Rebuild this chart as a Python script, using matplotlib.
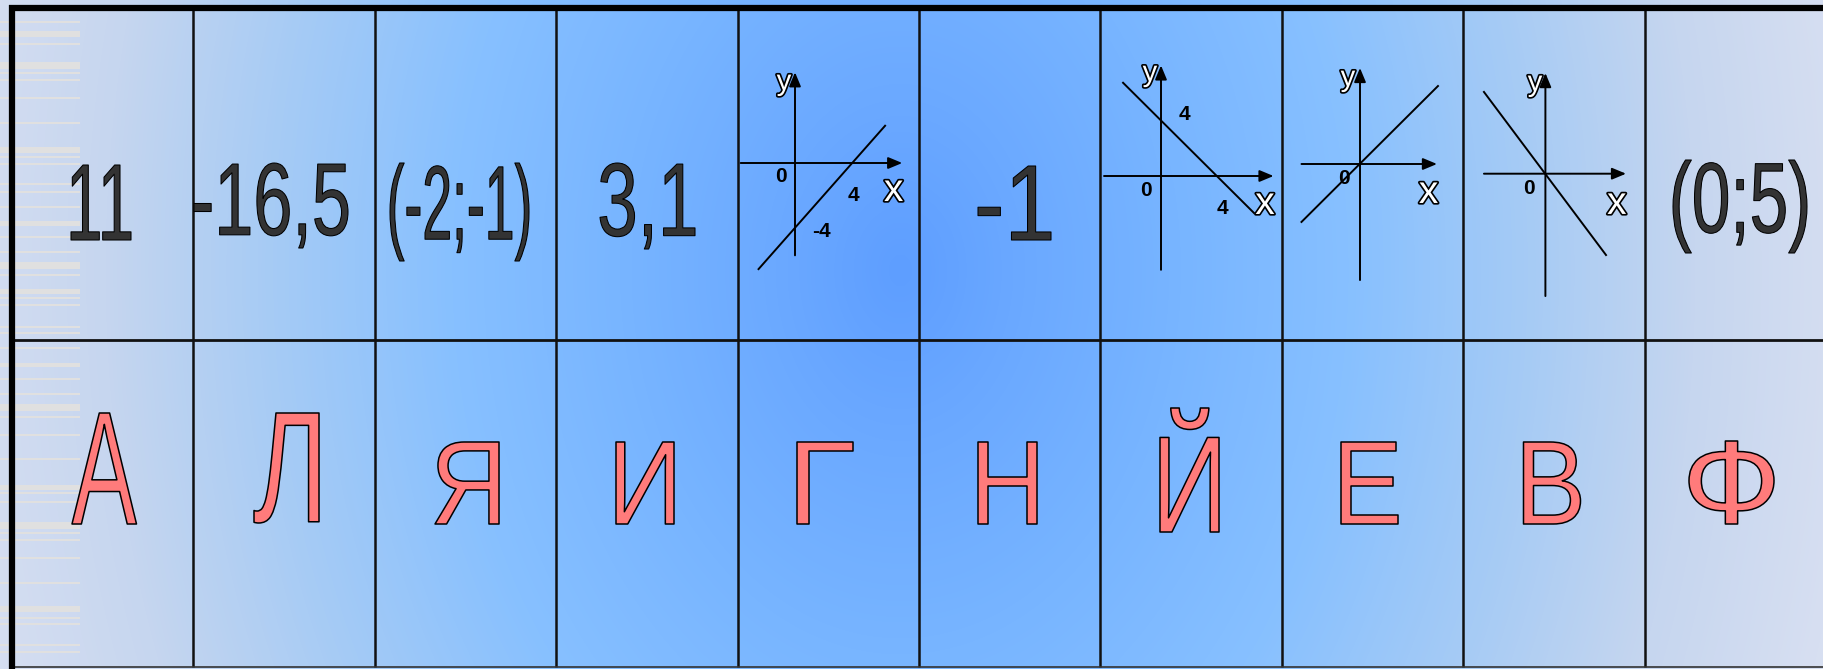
import numpy as np
import matplotlib
matplotlib.use('Agg')
import matplotlib.pyplot as plt
from matplotlib import patheffects, font_manager
from matplotlib.colors import LinearSegmentedColormap, to_rgba
from matplotlib.transforms import Affine2D
from matplotlib.textpath import TextPath
from matplotlib.font_manager import FontProperties

W, H = 1824, 669

# table grid (pixels)
col_edges = [12, 193, 375, 556, 738, 919, 1100, 1282, 1463, 1645, 1826]
mid_line = 340
bottom_line = 667

# cell contents
top_values = ['11', '-16,5', '(-2;-1)', '3,1', None, '-1', None, None, None, '(0;5)']
letters = ['А', 'Л', 'Я', 'И', 'Г', 'Н', 'Й', 'Е', 'В', 'Ф']

# ink boxes of the texts: x0, x1, top, bottom
top_boxes = [(71, 131, 165, 240), (194, 348, 163, 248), (390, 529, 163, 261),
             (600, 695, 163, 249), None, (978, 1051, 166, 240), None, None, None,
             (1673, 1807, 160, 253)]
letter_boxes = [(72, 136.5, 413, 524), (254, 319, 413, 523), (435, 499, 442, 524),
                (616, 674, 442, 524), (797, 853, 442, 524), (978, 1036.5, 442, 524),
                (1160, 1219, 408, 532), (1341, 1398, 442, 524), (1523.5, 1580.5, 442, 524),
                (1689, 1774, 441, 524)]

# small coordinate sketches in the top row
graph_cols = [4, 6, 7, 8]
line_x = [[-2.55, 6.3], [-2.71, 6.64], [-4.18, 5.57], [-4.39, 4.33]]
line_y = [[-6.55, 2.3], [6.66, -2.64], [-4.14, 5.57], [5.84, -5.81]]
xaxis_span = [[-3.8, 7.5], [-4.07, 8.04], [-4.18, 5.5], [-4.39, 5.76]]
yaxis_span = [[-5.7, 5.6], [-6.7, 7.9], [-8.29, 6.86], [-8.74, 7.19]]
tick_labels = [[('0', -1.0, -0.86), ('4', 4.06, -2.0), ('-4', 1.88, -4.2)],
               [('4', 1.64, 4.36), ('0', -1.07, -1.0), ('4', 4.36, -2.29)],
               [('0', -1.14, -1.0)],
               [('0', -1.17, -1.09)]]
x_name_pos = [(6.9, -1.73), (7.43, -2.0), (4.9, -2.07), (5.1, -2.16)]
y_name_pos = [(-0.77, 5.0), (-0.79, 7.35), (-0.86, 6.14), (-0.74, 6.48)]
# where the origin sits (pixels) and pixels per unit
graph_origin = [(795, 163), (1161, 176), (1360, 164), (1545.4, 173.7)]
graph_unit = [(14.3, 16.2), (14, 14), (14, 14), (14, 14)]

# decorative stripes at the left edge
stripe_y = [22, 34, 44, 65, 73, 80, 98, 123, 150, 157, 164, 184, 192, 207, 223, 237,
            252, 265, 275, 291, 298, 305, 327, 333, 348, 365, 379, 394, 407, 417, 435,
            459, 487, 493, 502, 525, 533, 540, 558, 583, 609, 618, 624, 645, 652]
stripe_h = [2.5, 6, 2.5, 7, 2.5, 2.5, 2.5, 2.5, 6, 2.5, 2.5, 2.5, 2.5, 2.5, 5, 2.5,
            2.5, 7, 2.5, 5, 2.5, 2.5, 2.5, 2.5, 2.5, 4, 2.5, 2.5, 7, 2.5, 2.5,
            2.5, 5, 2.5, 2.5, 7, 2.5, 2.5, 2.5, 2.5, 6, 2.5, 2.5, 2.5, 2.5]

installed = {f.name for f in font_manager.fontManager.ttflist}
NARROW = 'Liberation Sans Narrow' if 'Liberation Sans Narrow' in installed else 'Liberation Sans'


class FitToBox(patheffects.AbstractPathEffect):
    """Stretch the glyph outlines so their ink fills a pixel box (x0, x1, top, bottom)."""

    def __init__(self, box, face, edge='black', lw=1.0):
        super().__init__()
        self.box, self.face, self.edge, self.lw = box, face, edge, lw

    def draw_path(self, renderer, gc, tpath, affine, rgbFace=None):
        x0, x1, top, bottom = self.box
        height = renderer.get_canvas_width_height()[1]
        ink = tpath.get_extents().transformed(affine)
        fit = affine + (Affine2D()
                        .translate(-ink.x0, -ink.y0)
                        .scale((x1 - x0) / ink.width, (bottom - top) / ink.height)
                        .translate(x0, height - bottom))
        gc0 = renderer.new_gc()
        gc0.copy_properties(gc)
        gc0.set_linewidth(self.lw)
        gc0.set_foreground(self.edge)
        renderer.draw_path(gc0, tpath, fit, to_rgba(self.face))
        gc0.restore()


def put_text(ax, s, box, family, face, lw):
    prop = FontProperties(family=family)
    ink_w = TextPath((0, 0), s, size=1, prop=prop).get_extents().width
    size = (box[1] - box[0]) / ink_w * 72 / 100
    ax.text((box[0] + box[1]) / 2, (box[2] + box[3]) / 2, s, fontproperties=prop,
            fontsize=size, ha='center', va='center', color=face, zorder=5,
            path_effects=[FitToBox(box, face, lw=lw)])


fig = plt.figure(figsize=(W / 100, H / 100), dpi=100)
ax = fig.add_axes([0, 0, 1, 1])
ax.set_xlim(0, W)
ax.set_ylim(H, 0)
ax.axis('off')

# background: soft blue glow, pale at the sides
yy, xx = np.mgrid[0:H, 0:W]
dist = np.sqrt(((xx - 900) / 950.0) ** 2 + ((yy - 270) / 1300.0) ** 2) / 1.05
bg_cmap = LinearSegmentedColormap.from_list('bg', [
    (0.0, '#5e9eff'), (0.11, '#6aa8ff'), (0.28, '#78b5ff'), (0.45, '#87c0ff'),
    (0.63, '#a6cbf5'), (0.8, '#c6d6ef'), (1.0, '#dbe1f2')])
ax.imshow(np.clip(dist, 0, 1), cmap=bg_cmap, vmin=0, vmax=1, extent=(0, W, H, 0),
          aspect='auto', zorder=0, interpolation='bilinear')

ax.barh(stripe_y, 80, height=stripe_h, left=0, color='#e0e0e0', zorder=1)

# table lines
ax.vlines(col_edges[1:-1], 8, bottom_line, color='#111111', lw=1.8, zorder=3)
ax.hlines(mid_line, col_edges[0], W, color='#111111', lw=2.0, zorder=3)
ax.hlines(bottom_line, col_edges[0], W, color='#333333', lw=1.2, zorder=3)
ax.hlines(8, 9, W, color='black', lw=4.5, zorder=4)
ax.vlines(12, 5, H, color='black', lw=4.5, zorder=4)

for s, box in zip(top_values, top_boxes):
    if s is not None:
        put_text(ax, s, box, [NARROW, 'DejaVu Sans'], '#333333', 0.75)

for s, box in zip(letters, letter_boxes):
    put_text(ax, s, box, ['Liberation Sans', 'DejaVu Sans'], '#ff7b7b', 1.1)

# coordinate sketches
hollow = [patheffects.Stroke(linewidth=2.4, foreground='black'), patheffects.Normal()]
for i, c in enumerate(graph_cols):
    x0, x1 = col_edges[c], col_edges[c + 1]
    ox, oy = graph_origin[i]
    ux, uy = graph_unit[i]
    gax = fig.add_axes([x0 / W, (H - mid_line) / H, (x1 - x0) / W, (mid_line - 8) / H])
    gax.set_xlim((x0 - ox) / ux, (x1 - ox) / ux)
    gax.set_ylim((oy - mid_line) / uy, (oy - 8) / uy)
    gax.axis('off')
    arrow = dict(arrowstyle='-|>,head_length=0.6,head_width=0.25', mutation_scale=14,
                 lw=1.4, color='black', shrinkA=0, shrinkB=0)
    gax.annotate('', xy=(xaxis_span[i][1], 0), xytext=(xaxis_span[i][0], 0), arrowprops=arrow)
    gax.annotate('', xy=(0, yaxis_span[i][1]), xytext=(0, yaxis_span[i][0]), arrowprops=arrow)
    gax.plot(line_x[i], line_y[i], color='black', lw=1.4)
    for s, tx, ty in tick_labels[i]:
        gax.text(tx, ty, s, ha='center', va='center', fontsize=15, fontweight='bold',
                 family=['Liberation Sans', 'DejaVu Sans'], color='black')
    gax.text(*x_name_pos[i], 'x', ha='center', va='center', fontsize=28, color='white',
             family=['Liberation Sans', 'DejaVu Sans'], path_effects=hollow)
    gax.text(*y_name_pos[i], 'y', ha='center', va='center', fontsize=21, color='white',
             family=['Liberation Sans', 'DejaVu Sans'], path_effects=hollow)

fig.savefig('out.png', dpi=100)
